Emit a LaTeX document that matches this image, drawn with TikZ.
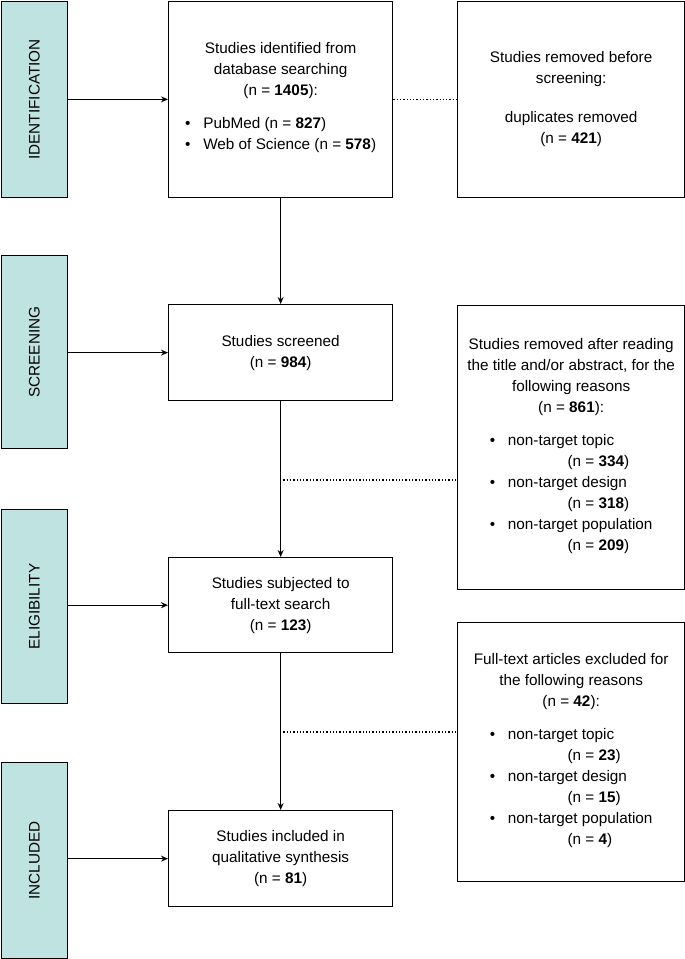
\documentclass[tikz,border=0pt]{standalone}
\usepackage{fontspec}
\setmainfont{Liberation Sans}
\usetikzlibrary{arrows.meta}
\definecolor{stagecol}{HTML}{BFE3E0}
\begin{document}
\begin{tikzpicture}[x=1pt,y=-1pt,font=\fontsize{15.3}{21}\selectfont,
	stage/.style={fill=stagecol, draw=black, line width=1.3pt, minimum width=66pt, anchor=north west, inner sep=0pt},
	box/.style={fill=white, draw=black, line width=1.3pt, anchor=north west, inner sep=0pt, align=center},
	arr/.style={line width=1.3pt, -{Stealth[length=7pt,width=6pt]}},
	dot/.style={line width=1.3pt, dotted}]
	\useasboundingbox (0,0) rectangle (685,959);
	% stages
	\node [stage, minimum height=196pt] (id) at (0.7,0.7) {\rotatebox{90}{IDENTIFICATION}};
	\node [stage, minimum height=193pt] (scr) at (0.7,255) {\rotatebox{90}{SCREENING}};
	\node [stage, minimum height=194pt] (eli) at (0.7,509) {\rotatebox{90}{ELIGIBILITY}};
	\node [stage, minimum height=196pt] (inc) at (0.7,762) {\rotatebox{90}{INCLUDED}};
	% main column
	\node [box, minimum width=224pt, minimum height=196pt] (b1) at (168,0.7) {Studies identified from\\database searching\\(n = \textbf{1405}):\\[14pt]
		\begin{tabular}{@{}l@{\ \ \ }l@{}}\textbullet & PubMed (n = \textbf{827})\\\textbullet & Web of Science (n = \textbf{578})\end{tabular}};
	\node [box, minimum width=224pt, minimum height=96pt] (b2) at (168,304) {Studies screened\\(n = \textbf{984})};
	\node [box, minimum width=224pt, minimum height=95pt] (b3) at (168,557) {Studies subjected to\\full-text search\\(n = \textbf{123})};
	\node [box, minimum width=224pt, minimum height=96pt] (b4) at (168,810) {Studies included in\\qualitative synthesis\\(n = \textbf{81})};
	% right column
	\node [box, minimum width=227pt, minimum height=196pt] (r1) at (457,0.7) {Studies removed before\\screening:\\[18pt]duplicates removed\\(n = \textbf{421})};
	\node [box, minimum width=227pt, minimum height=284pt] (r2) at (457,305) {Studies removed after reading\\the title and/or abstract, for the\\following reasons\\(n = \textbf{861}):\\[14pt]
		\begin{tabular}{@{}l@{\ \ \ }l@{}}\textbullet & non-target topic\\ & \hspace{3.9em}(n = \textbf{334})\\\textbullet & non-target design\\ & \hspace{3.9em}(n = \textbf{318})\\\textbullet & non-target population\\ & \hspace{3.9em}(n = \textbf{209})\end{tabular}};
	\node [box, minimum width=227pt, minimum height=259pt] (r3) at (457,622) {Full-text articles excluded for\\the following reasons\\(n = \textbf{42}):\\[14pt]
		\begin{tabular}{@{}l@{\ \ \ }l@{}}\textbullet & non-target topic\\ & \hspace{3.9em}(n = \textbf{23})\\\textbullet & non-target design\\ & \hspace{3.9em}(n = \textbf{15})\\\textbullet & non-target population\\ & \hspace{3.9em}(n = \textbf{4})\end{tabular}};
	% connectors
	\draw [arr] (id.east |- b1.west) -- (b1.west);
	\draw [arr] (scr.east |- b2.west) -- (b2.west);
	\draw [arr] (eli.east |- b3.west) -- (b3.west);
	\draw [arr] (inc.east |- b4.west) -- (b4.west);
	\draw [arr] (b1.south) -- (b2.north);
	\draw [arr] (b2.south) -- (b3.north);
	\draw [arr] (b3.south) -- (b4.north);
	\coordinate (j2) at (280,480);
	\coordinate (j3) at (280,732);
	\draw [dot] (b1.east) -- (r1.west);
	\draw [dot] (j2) -- (r2.west |- j2);
	\draw [dot] (j3) -- (r3.west |- j3);
\end{tikzpicture}
\end{document}
